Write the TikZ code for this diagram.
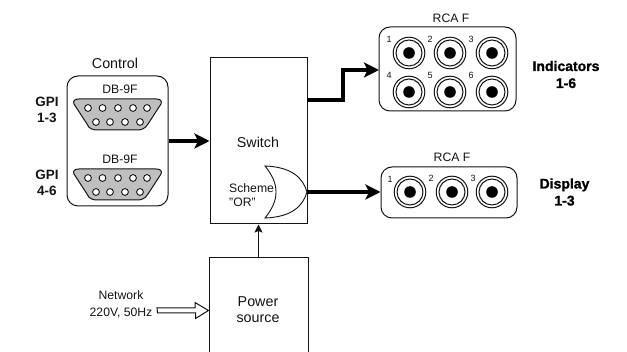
\documentclass[tikz,border=0pt]{standalone}
\usepackage{fontspec}
\setmainfont{Liberation Sans}
\newfontfamily\heavy{Liberation Sans Bold}[FakeBold=1.2]
\usetikzlibrary{arrows.meta,positioning}
\definecolor{ink}{RGB}{20,20,20}
\tikzset{
  x=1pt,y=-1pt,
  box/.style={draw=ink,line width=1pt,fill=white,inner sep=0pt,align=center,text=ink},
  round box/.style={box,rounded corners=11pt},
  lab/.style={inner sep=0pt,align=center,text=ink,font=\fontsize{14.3}{17}\selectfont},
  small/.style={inner sep=0pt,align=center,text=ink,font=\fontsize{12.2}{14}\selectfont},
  tiny/.style={inner sep=0pt,text=ink,font=\fontsize{9}{10}\selectfont},
  big/.style={inner sep=0pt,align=center,text=ink,font=\fontsize{14.3}{16}\selectfont},
  gpi/.style={inner sep=0pt,align=center,text=ink,font=\fontsize{13.5}{16.5}\selectfont\bfseries},
  hv/.style={inner sep=0pt,align=center,text=black,font=\fontsize{14}{17}\heavy},
  thick link/.style={draw=black,line width=3.2pt,-{Stealth[length=15pt,width=15pt,inset=3.5pt]}},
  thin link/.style={draw=ink,line width=1pt,-{Stealth[length=8pt,width=8pt,inset=1.5pt]}},
  pics/db9/.style={code={
    \draw[draw=ink,line width=1pt,fill=black!25]
      (79,99) -- (156,99) .. controls (161,99) and (162,101) .. (161,104) -- (148,124)
      .. controls (145,129) and (141,130) .. (137,130) -- (98,130)
      .. controls (93,130) and (89,129) .. (87,124) -- (74,104)
      .. controls (73,101) and (74,99) .. (79,99) -- cycle;
    \foreach \px in {88,102.5,118,133,147}
      \draw[draw=ink,line width=0.9pt,fill=white] (\px,108) circle[radius=3.4];
    \foreach \px in {96,110,125,140}
      \draw[draw=ink,line width=0.9pt,fill=white] (\px,122) circle[radius=3.4];
  }},
  pics/rca/.style={code={
    \draw[draw=ink,line width=1pt,fill=white] (0,0) circle[radius=15.8];
    \draw[draw=ink,line width=1pt,fill=white] (0,0) circle[radius=13];
    \fill[black] (0,0) circle[radius=5.8];
  }},
}
\begin{document}
\begin{tikzpicture}
\clip (0,0) rectangle (627,352);
\fill[white] (0,0) rectangle (627,352);

% Control block
\node[round box,minimum width=101pt,minimum height=130pt] (control) at (117.5,141) {};
\node[lab] (controlT) at (115,63) {Control};
\node[small] (db1T) at (120,89) {DB-9F};
\node[small] (db2T) at (120,159) {DB-9F};
\pic {db9};
\begin{scope}[yshift=-70pt]\pic {db9};\end{scope}
\node[gpi] (gpi1) at (47,110) {GPI\\1-3};
\node[gpi] (gpi2) at (47,183) {GPI\\4-6};

% Switch
\node[box,minimum width=97pt,minimum height=166pt] (switch) at (258.5,141) {};
\node[big] (switchT) at (258,142) {Switch};
\draw[draw=ink,line width=0.9pt,fill=white] (265,166)
  .. controls (292,167) and (303,178) .. (307,192)
  .. controls (303,206) and (292,217) .. (265,218)
  .. controls (273,208) and (276,200) .. (276,192)
  .. controls (276,184) and (273,176) .. (265,166) -- cycle;
\node[small,align=left,anchor=west] (scheme) at (229,195) {Scheme\\"OR"};
\coordinate (orout) at (307,192);

% Power
\node[box,minimum width=99pt,minimum height=104pt] (power) at (258.5,310) {};
\node[big] (powerT) at (258,310) {Power\\source};
\node[small,font=\fontsize{12.2}{17}\selectfont] (net) at (121,304.5) {Network\\220V, 50Hz};
\coordinate (netin) at (157,310.5);

% RCA 6
\node[round box,minimum width=137pt,minimum height=84pt] (rcaA) at (447.5,69) {};
\node[small] (rcaAT) at (451,18) {RCA F};
\foreach \cx in {409,450,492} \foreach \cy in {53,92} \pic at (\cx,\cy) {rca};
\node[tiny] (a1) at (389,39) {1};
\node[tiny] (a2) at (430,39) {2};
\node[tiny] (a3) at (471,39) {3};
\node[tiny] (a4) at (389,75) {4};
\node[tiny] (a5) at (430,75) {5};
\node[tiny] (a6) at (471,75) {6};
\node[hv] (ind) at (566,74.5) {Indicators\\1-6};

% RCA 3
\node[round box,minimum width=136pt,minimum height=51pt] (rcaB) at (449,192.5) {};
\node[small] (rcaBT) at (452,157) {RCA F};
\foreach \cx in {410,452,492} \pic at (\cx,192) {rca};
\node[tiny] (b1) at (390,179) {1};
\node[tiny] (b2) at (431,178) {2};
\node[tiny] (b3) at (473,178) {3};
\node[hv] (disp) at (564.5,192) {Display\\1-3};

% Connectors
\coordinate (swout) at (307,100);
\coordinate (rcain) at (379,70);
\draw[thick link] (control.east) -- (switch.west);
\draw[thick link] (swout) -- (343,100) -- (343,70) -- (rcain);
\draw[thick link] (orout) -- (orout -| rcaB.west);
\draw[thin link] (power.north) -- (power.north |- switch.south);
\draw[draw=ink,line width=1pt,fill=white,line join=miter]
  (netin) ++(0,-2.5) -- ++(38,0) -- ++(0,-5.5) -- (power.west |- netin) -- ++(-13,8) -- ++(0,-5.5) -- ++(-38,0) -- cycle;
\end{tikzpicture}
\end{document}
